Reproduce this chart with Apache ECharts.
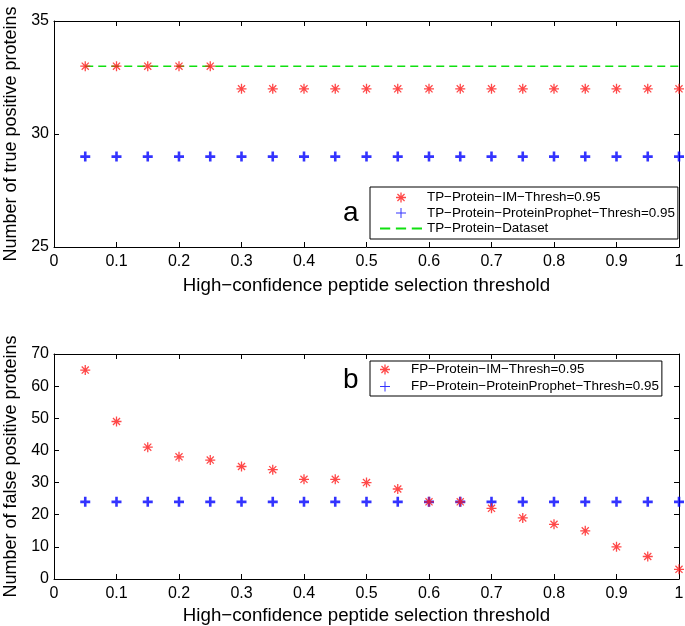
<!DOCTYPE html>
<html>
<head>
<meta charset="utf-8">
<script src="https://cdn.jsdelivr.net/npm/echarts@6/dist/echarts.min.js"></script>
<style>html,body{margin:0;padding:0;background:#fff}#c{width:685px;height:626px}</style>
</head>
<body>
<div id="c"></div>
<script>
var thresholds = [0.05,0.1,0.15,0.2,0.25,0.3,0.35,0.4,0.45,0.5,0.55,0.6,0.65,0.7,0.75,0.8,0.85,0.9,0.95,1.0];
var tpIM = [33,33,33,33,33,32,32,32,32,32,32,32,32,32,32,32,32,32,32,32];
var tpPP = [29,29,29,29,29,29,29,29,29,29,29,29,29,29,29,29,29,29,29,29];
var tpDatasetX = [0.05, 1.0];
var tpDatasetY = [33, 33];
var fpIM = [65,49,41,38,37,35,34,31,31,30,28,24,24,22,19,17,15,10,7,3];
var fpPP = [24,24,24,24,24,24,24,24,24,24,24,24,24,24,24,24,24,24,24,24];
var xTicks = [0,0.1,0.2,0.3,0.4,0.5,0.6,0.7,0.8,0.9,1];
var tpYTicks = [25,30,35];
var fpYTicks = [0,10,20,30,40,50,60,70];

var names = {
  tpIM: 'TP\u2212Protein\u2212IM\u2212Thresh=0.95',
  tpPP: 'TP\u2212Protein\u2212ProteinProphet\u2212Thresh=0.95',
  tpDS: 'TP\u2212Protein\u2212Dataset',
  fpIM: 'FP\u2212Protein\u2212IM\u2212Thresh=0.95',
  fpPP: 'FP\u2212Protein\u2212ProteinProphet\u2212Thresh=0.95'
};
var xTitle = 'High\u2212confidence peptide selection threshold';

function zip(xs, ys){ return xs.map(function(x,i){ return [x, ys[i]]; }); }

var FONT = 'Liberation Sans, Arial, Helvetica, sans-serif';
var STAR = 'path://M4.35,0 H5.65 V10 H4.35 Z M0,4.35 H10 V5.65 H0 Z M1.0,1.9 L1.9,1.0 L9.0,8.1 L8.1,9.0 Z M8.1,1.0 L9.0,1.9 L1.9,9.0 L1.0,8.1 Z';
var PLUS = 'path://M3.7,0 H6.3 V3.7 H10 V6.3 H6.3 V10 H3.7 V6.3 H0 V3.7 H3.7 Z';
var PLUS_THIN = 'path://M4.5,0 H5.5 V4.5 H10 V5.5 H5.5 V10 H4.5 V5.5 H0 V4.5 H4.5 Z';
var DASHES = 'path://M0,0 H9 V1.6 H0 Z M14,0 H23 V1.6 H14 Z M28,0 H37 V1.6 H28 Z';

function xAxis(grid, pos, showLabel, gap){
  return {
    type:'value', gridIndex:grid, position:pos, min:0, max:1, interval:0.1,
    axisLine:{show:true, onZero:false, lineStyle:{color:'#000', width:1}},
    axisTick:{show:true, inside:true, length:5, lineStyle:{color:'#000'}},
    axisLabel:{show:showLabel, color:'#000', fontSize:16, fontFamily:FONT, margin:7},
    splitLine:{show:false},
    name: showLabel ? xTitle : '', nameLocation:'middle', nameGap:gap || 29,
    nameTextStyle:{color:'#000', fontSize:18.7, fontFamily:FONT}
  };
}
function yAxis(grid, pos, showLabel, min, max, interval, title){
  return {
    type:'value', gridIndex:grid, position:pos, min:min, max:max, interval:interval,
    axisLine:{show:true, onZero:false, lineStyle:{color:'#000', width:1}},
    axisTick:{show:true, inside:true, length:5, lineStyle:{color:'#000'}},
    axisLabel:{show:showLabel, color:'#000', fontSize:16, fontFamily:FONT, margin:5},
    splitLine:{show:false},
    name: showLabel ? title : '', nameLocation:'middle', nameGap:29,
    nameTextStyle:{color:'#000', fontSize:18, fontFamily:FONT}
  };
}

var legendCommon = {
  orient:'vertical', itemWidth:42, itemHeight:10,
  backgroundColor:'#fff', borderColor:'#000', borderWidth:1,
  textStyle:{color:'#000', fontSize:13.4, fontFamily:FONT},
  selectedMode:false
};

var option = {
  animation:false,
  backgroundColor:'#fff',
  grid:[
    {left:54, top:21, right:6, height:226, outerBoundsMode:'none', containLabel:false},
    {left:54, top:354, right:6, height:225, outerBoundsMode:'none', containLabel:false}
  ],
  xAxis:[ xAxis(0,'bottom',true,29), xAxis(0,'top',false), xAxis(1,'bottom',true,27), xAxis(1,'top',false) ],
  yAxis:[
    yAxis(0,'left',true,25,35,5,'Number of true positive proteins'),
    yAxis(0,'right',false,25,35,5,''),
    yAxis(1,'left',true,0,70,10,'Number of false positive proteins'),
    yAxis(1,'right',false,0,70,10,'')
  ],
  legend:[
    Object.assign({}, legendCommon, {left:370, top:187, itemGap:2.5, padding:[4,3,4,10], data:[
      {name:names.tpIM, icon:STAR}, {name:names.tpPP, icon:PLUS_THIN}, {name:names.tpDS, icon:DASHES}
    ]}),
    Object.assign({}, legendCommon, {left:370, top:361, itemGap:4, padding:[2,3,3,10], data:[
      {name:names.fpIM, icon:STAR}, {name:names.fpPP, icon:PLUS_THIN}
    ]})
  ],
  series:[
    {name:names.tpDS, type:'line', xAxisIndex:0, yAxisIndex:0, data:zip(tpDatasetX, tpDatasetY),
     symbol:'none', lineStyle:{color:'#10e010', width:1.6, type:[8,5]}, itemStyle:{color:'#10e010'}, z:1},
    {name:names.tpIM, type:'scatter', xAxisIndex:0, yAxisIndex:0, data:zip(thresholds, tpIM),
     symbol:STAR, symbolSize:10, itemStyle:{color:'#ff1a1a'}, z:3},
    {name:names.tpPP, type:'scatter', xAxisIndex:0, yAxisIndex:0, data:zip(thresholds, tpPP),
     symbol:PLUS, symbolSize:10, itemStyle:{color:'#0000ff'}, z:2},
    {name:names.fpIM, type:'scatter', xAxisIndex:2, yAxisIndex:2, data:zip(thresholds, fpIM),
     symbol:STAR, symbolSize:10, itemStyle:{color:'#ff1a1a'}, z:3},
    {name:names.fpPP, type:'scatter', xAxisIndex:2, yAxisIndex:2, data:zip(thresholds, fpPP),
     symbol:PLUS, symbolSize:10, itemStyle:{color:'#0000ff'}, z:2}
  ],
  graphic:[
    {type:'text', left:343, top:199, style:{text:'a', fontSize:28, fontFamily:FONT, fill:'#000'}},
    {type:'text', left:343, top:366, style:{text:'b', fontSize:28, fontFamily:FONT, fill:'#000'}}
  ]
};

var chart = echarts.init(document.getElementById('c'), null, {renderer:'canvas'});
chart.setOption(option);
</script>
</body>
</html>
